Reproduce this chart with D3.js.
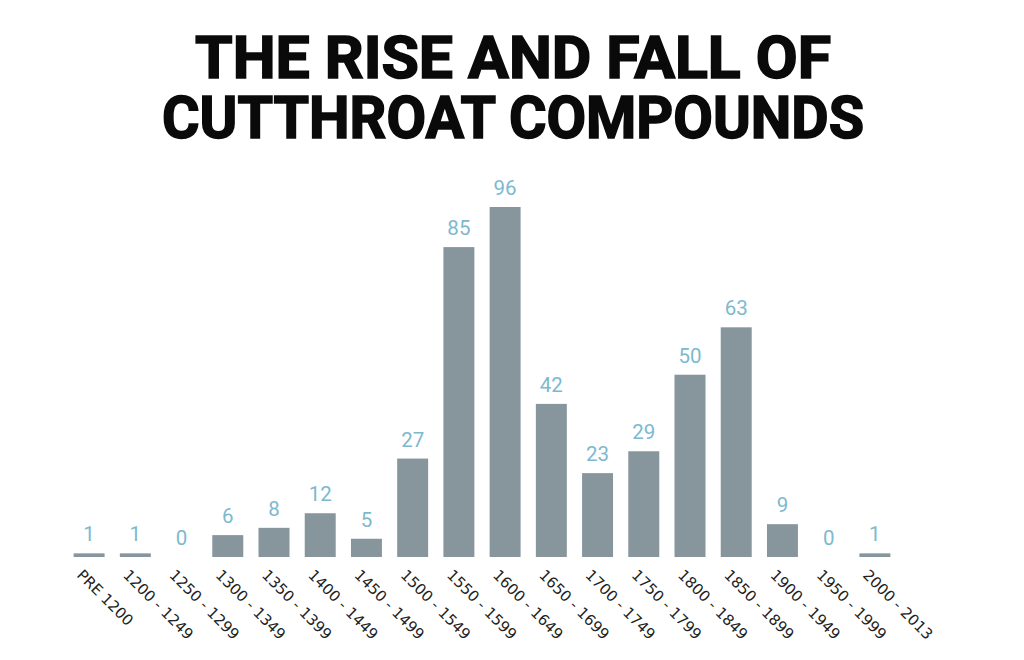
<!DOCTYPE html>
<html>
<head>
<meta charset="utf-8">
<script src="https://cdn.jsdelivr.net/npm/d3@7"></script>
<style>
  html, body { margin: 0; padding: 0; background: #fff; }
  svg { display: block; }
</style>
</head>
<body>
<svg id="chart" width="1024" height="660"></svg>
<script>
const titleLines = ["THE RISE AND FALL OF", "CUTTHROAT COMPOUNDS"];
const categories = ["PRE 1200", "1200 - 1249", "1250 - 1299", "1300 - 1349", "1350 - 1399",
  "1400 - 1449", "1450 - 1499", "1500 - 1549", "1550 - 1599", "1600 - 1649", "1650 - 1699",
  "1700 - 1749", "1750 - 1799", "1800 - 1849", "1850 - 1899", "1900 - 1949", "1950 - 1999",
  "2000 - 2013"];
const values = [1, 1, 0, 6, 8, 12, 5, 27, 85, 96, 42, 23, 29, 50, 63, 9, 0, 1];

const svg = d3.select("#chart");

// Title: one text element, two lines
const titleX = 513;
const titleBaselines = [78, 138];
const titleWidths = [636, 702];
const title = svg.append("text")
  .attr("class", "title")
  .attr("text-anchor", "middle")
  .style("font-family", "Roboto, 'DejaVu Sans', sans-serif")
  .style("font-weight", "700")
  .style("font-size", "59px")
  .style("fill", "#0a0a0a")
  .style("stroke", "#0a0a0a")
  .style("stroke-width", "1.6px");
title.selectAll("tspan")
  .data(titleLines)
  .join("tspan")
  .attr("x", titleX)
  .attr("y", (d, i) => titleBaselines[i])
  .attr("textLength", (d, i) => titleWidths[i])
  .attr("lengthAdjust", "spacingAndGlyphs")
  .text(d => d);

// Scales
const x = d3.scaleBand()
  .domain(categories)
  .range([66, 898])
  .paddingInner(0.33)
  .paddingOuter(0.165);

const y = d3.scaleLinear()
  .domain([0, 96])
  .range([557, 207]);

// Bars
svg.selectAll("rect.bar")
  .data(values)
  .join("rect")
  .attr("class", "bar")
  .attr("x", (d, i) => x(categories[i]))
  .attr("width", x.bandwidth())
  .attr("y", d => y(d))
  .attr("height", d => y(0) - y(d))
  .attr("fill", "#87959d");

// Value labels
svg.selectAll("text.val")
  .data(values)
  .join("text")
  .attr("class", "val")
  .attr("x", (d, i) => x(categories[i]) + x.bandwidth() / 2)
  .attr("y", d => y(d) - 12)
  .attr("text-anchor", "middle")
  .style("font-family", "Roboto, 'DejaVu Sans', sans-serif")
  .style("font-size", "20.5px")
  .style("fill", "#7cb9cf")
  .text(d => d);

// X axis labels (rotated)
const xAxis = d3.axisBottom(x).tickSize(0).tickPadding(0);
const gx = svg.append("g")
  .attr("transform", `translate(0, ${y(0)})`)
  .call(xAxis);
gx.select(".domain").remove();
gx.selectAll(".tick text")
  .attr("x", 0)
  .attr("y", 0)
  .attr("dy", 0)
  .attr("text-anchor", "start")
  .attr("transform", "translate(-13, 19) rotate(45)")
  .style("font-family", "'DejaVu Sans', sans-serif")
  .style("font-size", "15px")
  .style("fill", "#222");
</script>
</body>
</html>
